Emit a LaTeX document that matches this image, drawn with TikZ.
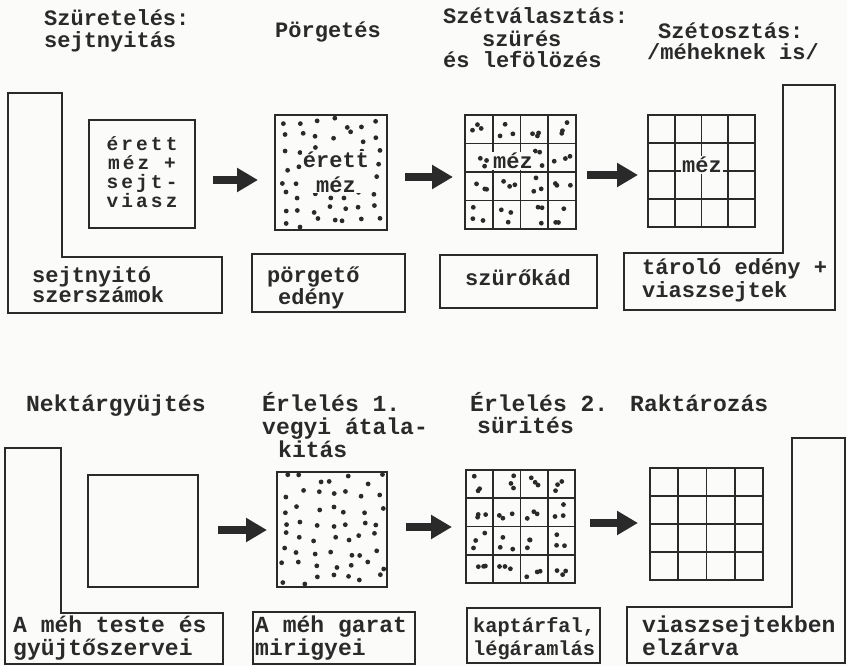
\documentclass[tikz,border=0pt]{standalone}
\usepackage{fontspec}
\setmainfont{Liberation Mono}
\setmonofont{Liberation Mono}
\newfontfamily\widemono[LetterSpace=16]{Liberation Mono}
\usetikzlibrary{arrows.meta,calc}
\definecolor{ink}{HTML}{2A2A2A}
\definecolor{paper}{HTML}{FBFBFA}
\begin{document}
\begin{tikzpicture}[x=1pt,y=-1pt,
  ln/.style={draw=ink, line width=1.8pt, line join=miter},
  box/.style={draw=ink, line width=1.8pt, inner sep=0pt, outer sep=0pt},
  ttl/.style={text=ink, anchor=base west, inner sep=0pt, font=\bfseries\fontsize{22}{24}\selectfont},
  ttlb/.style={text=ink, anchor=base west, inner sep=0pt, font=\bfseries\fontsize{23}{24}\selectfont},
  inner/.style={text=ink, inner sep=1pt, align=center},
  bigarrow/.style={draw=ink, line width=8pt, -{Triangle[length=21pt,width=23pt]}}
]
\fill[paper] (0,0) rectangle (847,666);
\useasboundingbox (0,0) rectangle (847,666);

% ---------- top row titles ----------
\node[ttl] (t1a) at (44,26) {Szüretelés:};
\node[ttl] (t1b) at (44,48) {sejtnyitás};
\node[ttl] (t2)  at (275,38) {Pörgetés};
\node[ttl] (t3a) at (443,24) {Szétválasztás:};
\node[ttl] (t3b) at (482,47) {szürés};
\node[ttl] (t3c) at (443,68) {és lefölözés};
\node[ttl] (t4a) at (658,39) {Szétosztás:};
\node[ttl] (t4b) at (647,60) {/méheknek is/};

% ---------- top row L-shaped frames ----------
\draw[ln] (8,93) -- (62,93) -- (62,257) -- (222,257) -- (222,313) -- (8,313) -- cycle;
\draw[ln] (624,253) -- (783,253) -- (783,85) -- (835,85) -- (835,310) -- (624,310) -- cycle;

% ---------- top row boxes ----------
\node[box, minimum width=106pt, minimum height=108pt] (b1) at (142,174) {};
\node[box, minimum width=112pt, minimum height=115pt] (b2) at (331,172.5) {};
\node[box, minimum width=111pt, minimum height=114pt] (b3) at (520.5,172) {};
\node[box, minimum width=107pt, minimum height=112pt] (b4) at (701.5,171) {};

\node[box, minimum width=153pt, minimum height=58pt] (p1) at (328.5,283) {};
\node[box, minimum width=157pt, minimum height=53pt] (p2) at (518.5,281.5) {};

% ---------- bottom row titles ----------
\node[ttlb] (s1)  at (26,411) {Nektárgyüjtés};
\node[ttlb] (s2a) at (262,411) {Érlelés 1.};
\node[ttlb] (s2b) at (262,434) {vegyi átala-};
\node[ttlb] (s2c) at (278,457) {kitás};
\node[ttlb] (s3a) at (470,411) {Érlelés 2.};
\node[ttlb] (s3b) at (477,433) {sürités};
\node[ttlb] (s4)  at (630,411) {Raktározás};

% ---------- bottom row L-shaped frames ----------
\draw[ln] (5,448) -- (61,448) -- (61,613) -- (223,613) -- (223,664) -- (5,664) -- cycle;
\draw[ln] (627,607) -- (792,607) -- (792,438) -- (845,438) -- (845,663) -- (627,663) -- cycle;

% ---------- bottom row boxes ----------
\node[box, minimum width=110pt, minimum height=112pt] (b5) at (143,531) {};
\node[box, minimum width=110pt, minimum height=115pt] (b6) at (332,529.5) {};
\node[box, minimum width=109pt, minimum height=113pt] (b7) at (520.5,526.5) {};
\node[box, minimum width=113pt, minimum height=112pt] (b8) at (706.5,524) {};

\node[box, minimum width=162pt, minimum height=52pt] (p3) at (334,638) {};
\node[box, minimum width=133pt, minimum height=55pt] (p4) at (533.5,635.5) {};

% ---------- grids ----------
\foreach \bx in {b3,b4,b7,b8}{
  \foreach \i in {1,2,3}{
    \draw[ink, line width=1.6pt] ($(\bx.north west)!\i/4!(\bx.north east)$) -- ($(\bx.south west)!\i/4!(\bx.south east)$);
    \draw[ink, line width=1.6pt] ($(\bx.north west)!\i/4!(\bx.south west)$) -- ($(\bx.north east)!\i/4!(\bx.south east)$);
  }
}

% ---------- dots ----------
\pgfmathsetseed{7}
\foreach \bx in {b2,b6}{
  \foreach \c in {0,...,6}{
    \foreach \r in {0,...,7}{
      \pgfmathsetmacro\rx{-47+\c*15.7+rand*5}
      \pgfmathsetmacro\ry{-50+\r*14.3+rand*5}
      \fill[ink] ($(\bx.center)+(\rx,\ry)$) circle (2.4pt);
    }
  }
}
\foreach \bx/\w/\h in {b3/111/114,b7/109/113}{
  \foreach \i in {0,...,3}{
    \foreach \j in {0,...,3}{
      \foreach \k in {1,2,3}{
        \pgfmathsetmacro\rx{(\i+0.5)*\w/4+rand*8.5}
        \pgfmathsetmacro\ry{(\j+0.5)*\h/4+rand*8.5}
        \fill[ink] ($(\bx.north west)+(\rx,\ry)$) circle (2.4pt);
      }
    }
  }
}

% ---------- texts inside boxes ----------
\node[inner, font=\widemono\bfseries\fontsize{19.5}{19}\selectfont] (b1t) at (142,172) {érett\\méz +\\sejt-\\viasz};
\node[inner, fill=paper, font=\bfseries\fontsize{22}{25}\selectfont] (b2t) at (336,172) {érett\\méz};
\node[inner, fill=paper, font=\bfseries\fontsize{22}{24}\selectfont] (b3t) at (513,161) {méz};
\node[inner, fill=paper, font=\bfseries\fontsize{22}{24}\selectfont] (b4t) at (702,165) {méz};

% ---------- frame / vessel labels, top ----------
\node[ttl] (l1a) at (32,282) {sejtnyitó};
\node[ttl] (l1b) at (32,302) {szerszámok};
\node[ttl] (l2a) at (267,282) {pörgető};
\node[ttl] (l2b) at (278,305) {edény};
\node[ttl] (l3)  at (465,285) {szürőkád};
\node[ttl] (l4a) at (642,275) {tároló edény +};
\node[ttl] (l4b) at (642,298) {viaszsejtek};

% ---------- frame / vessel labels, bottom ----------
\node[ttlb] (m1a) at (13,632) {A méh teste és};
\node[ttlb] (m1b) at (13,655) {gyüjtőszervei};
\node[ttlb] (m2a) at (255,632) {A méh garat};
\node[ttlb] (m2b) at (255,655) {mirigyei};
\node[ttlb, font=\bfseries\fontsize{20.3}{24}\selectfont] (m3a) at (473,632) {kaptárfal,};
\node[ttlb, font=\bfseries\fontsize{20.3}{24}\selectfont] (m3b) at (473,655) {légáramlás};
\node[ttlb] (m4a) at (642,632) {viaszsejtekben};
\node[ttlb] (m4b) at (642,655) {elzárva};

% ---------- arrows ----------
\draw[bigarrow, shorten <=18pt, shorten >=17pt] ([yshift=-6pt]b1.east) -- ([yshift=-7.5pt]b2.west);
\draw[bigarrow, shorten <=18pt, shorten >=12pt] ([yshift=-4.5pt]b2.east) -- ([yshift=-5pt]b3.west);
\draw[bigarrow, shorten <=11pt, shorten >=10pt] ([yshift=-3pt]b3.east) -- ([yshift=-4pt]b4.west);
\draw[bigarrow, shorten <=20pt, shorten >=10pt] ([yshift=1pt]b5.east) -- ([yshift=-0.5pt]b6.west);
\draw[bigarrow, shorten <=19pt, shorten >=14pt] ([yshift=2.5pt]b6.east) -- ([yshift=-0.5pt]b7.west);
\draw[bigarrow, shorten <=15pt, shorten >=12pt] ([yshift=3.5pt]b7.east) -- ([yshift=1pt]b8.west);
\end{tikzpicture}
\end{document}
